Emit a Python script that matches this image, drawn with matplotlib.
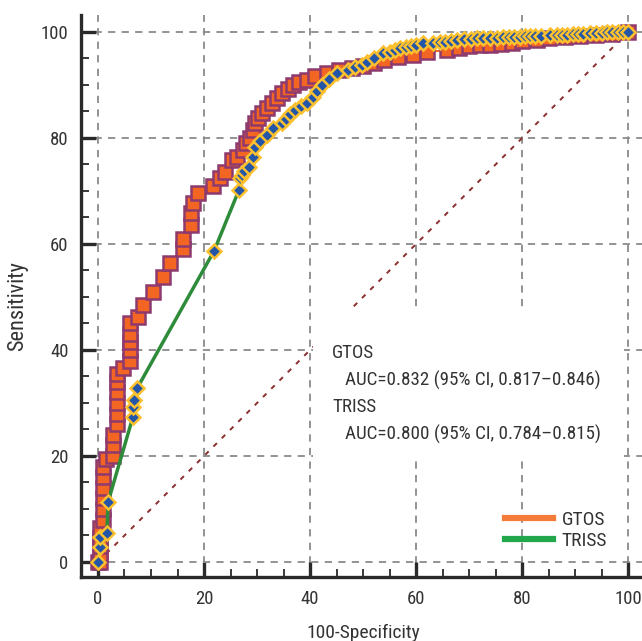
import matplotlib
matplotlib.use("Agg")
import matplotlib.pyplot as plt
from matplotlib.lines import Line2D
from matplotlib.patches import Rectangle
from matplotlib import font_manager as fm

# ---------------- data ----------------
gtos_fpr = [0, 0.4, 0.4, 0.4, 0.4, 0.4, 1.0, 1.0, 1.0, 1.0, 1.0, 1.0, 1.5, 2.8, 2.8, 2.8,
            3.6, 3.6, 3.6, 3.6, 3.6, 3.6, 4.7, 6.0, 6.0, 6.0, 6.0, 6.0, 7.5, 8.5, 10.4, 12.3,
            13.6, 16.0, 16.0, 17.5, 17.5, 18.0, 18.9, 21.7, 23.0, 24.0, 25.3, 26.3, 27.4, 28.0,
            28.7, 29.2, 29.6, 30.2, 30.9, 31.8, 32.8, 33.8, 34.7, 35.8, 36.8, 38.0, 39.4, 41.0,
            43.2, 45.5, 48.0, 50.0, 52.0, 54.0, 56.5, 59.4, 62.0, 65.8, 68.0, 70.0, 72.0, 74.0,
            76.0, 78.0, 80.0, 82.8, 85.0, 88.0, 91.0, 94.0, 97.0, 100.0]
gtos_tpr = [0, 0, 1.5, 3, 4.5, 6.5, 8, 10, 12, 14, 16, 18, 19.5, 20, 22, 24,
            26, 28, 30, 32, 34, 35.5, 36.6, 38, 40, 41.5, 43, 45, 46.2, 48.5, 51, 53.8,
            56.4, 59, 61, 63.6, 65.8, 67.7, 69.6, 71, 72.4, 73.5, 75.8, 76.5, 77.7, 79,
            80, 81.5, 82.8, 83.8, 84.7, 85.7, 86.6, 87.6, 88.5, 89.3, 90, 90.5, 91, 91.6,
            92.3, 92.8, 93.2, 93.6, 94.2, 94.8, 95.2, 95.7, 96.2, 96.6, 97.0, 97.3, 97.5, 97.6,
            97.8, 98.0, 98.3, 98.5, 98.8, 99.0, 99.2, 99.4, 99.6, 100]

triss_fpr = [0, 0.4, 0.4, 1.7, 1.9, 6.6, 6.6, 6.8, 7.4, 21.9, 26.6, 26.8, 27.2, 27.6, 28.5,
             29.2, 29.6, 30.5, 31.9, 33.0, 34.7, 35.5, 36.3, 37.2, 38.3, 39.4, 40.5, 41.3,
             42.3, 43.5, 45.1, 47.2, 48.5, 49.7, 50.8, 52.0, 53.8, 55.0, 56.0, 57.0, 58.0,
             59.0, 60.0, 61.3, 63.2, 64.5, 65.5, 66.5, 67.7, 69.0, 70.3, 71.5, 72.7, 74.0,
             75.2, 76.4, 77.5, 78.5, 79.5, 80.5, 81.5, 82.5, 83.5, 85.3, 86.5, 87.5, 88.5,
             89.5, 90.5, 91.5, 92.8, 94.0, 95.0, 96.0, 97.0, 98.0, 99.0, 100]
triss_tpr = [0, 2.8, 4.7, 5.5, 11.3, 27.4, 29.2, 30.5, 32.8, 58.7, 70.2, 72.5, 73.0, 73.8, 74.5,
             76.5, 78.3, 79.5, 80.6, 81.9, 82.8, 83.6, 84.5, 85.3, 86.0, 86.6, 87.8, 88.8,
             90.0, 91.2, 92.3, 92.8, 93.3, 93.8, 94.3, 95.0, 96.0, 96.3, 96.6, 97.0, 97.2,
             97.4, 97.6, 97.9, 97.9, 98.1, 98.2, 98.3, 98.5, 98.6, 98.7, 98.8, 98.8, 98.9,
             98.9, 99.0, 99.0, 99.1, 99.1, 99.2, 99.2, 99.3, 99.3, 99.4, 99.4, 99.5, 99.5,
             99.6, 99.6, 99.7, 99.8, 99.8, 99.8, 99.9, 99.9, 99.9, 100, 100]

ticks = [0, 20, 40, 60, 80, 100]
series_names = ["GTOS", "TRISS"]
auc_lines = ["GTOS", "   AUC=0.832 (95% CI, 0.817\u20130.846)",
             "TRISS", "   AUC=0.800 (95% CI, 0.784\u20130.815)"]

# ---------------- style ----------------
avail = {f.name for f in fm.fontManager.ttflist}
fam = [f for f in ["Liberation Sans Narrow", "Roboto Condensed", "Roboto", "DejaVu Sans"] if f in avail]
plt.rcParams['font.family'] = fam

orange = "#F26522"
purple = "#8E3A6E"
blue = "#2356A8"
gold = "#FDC02F"
green = "#2E8B3A"
txt = "#333333"

fig = plt.figure(figsize=(6.42, 6.41), dpi=100)
ax = fig.add_axes([81/642, 64/641, 1 - 81/642, (577-15)/641])
ax.set_xlim(-3.2, 102.6)
ax.set_ylim(-2.83, 103.2)

for s in ["top", "right"]:
    ax.spines[s].set_visible(False)
for s in ["left", "bottom"]:
    ax.spines[s].set_linewidth(2.4)
    ax.spines[s].set_color("#2a2a2a")

ax.set_xticks(ticks)
ax.set_yticks(ticks)
ax.set_xticks(range(0, 101, 5), minor=True)
ax.set_yticks(range(0, 101, 5), minor=True)
ax.tick_params(which="major", direction="in", length=11, width=2.4, color="#2a2a2a",
               labelsize=13.5, labelcolor=txt, pad=9)
ax.tick_params(which="minor", direction="in", length=6, width=1.3, color="#2a2a2a")

ax.grid(True, which="major", color="#8a8a8a", linestyle=(0, (4, 3.5)), linewidth=1.3, zorder=0)
ax.set_axisbelow(True)

# diagonal reference
ax.plot([0, 100], [0, 100], color="#8B2E2E", linestyle=(0, (2.5, 3.5)), linewidth=1.4, zorder=1)

# white box behind AUC text
ax.add_patch(Rectangle((40.6, 19.2), 58.6, 28.4, facecolor="white", edgecolor="none", zorder=2))

# GTOS
ax.plot(gtos_fpr, gtos_tpr, color=orange, linewidth=1.5, marker="s", markersize=10.5,
        markerfacecolor=orange, markeredgecolor=purple, markeredgewidth=1.8, zorder=3)
# TRISS
ax.plot(triss_fpr, triss_tpr, color=green, linewidth=2.5, zorder=4)
ax.plot(triss_fpr, triss_tpr, linestyle="none", marker="D", markersize=7.5,
        markerfacecolor=blue, markeredgecolor=gold, markeredgewidth=1.8, zorder=5)

ys = [39.4, 34.2, 29.2, 24.0]
for s, yv in zip(auc_lines, ys):
    ax.text(44.2, yv, s, fontsize=13.7, color=txt, va="center", ha="left", zorder=6)

handles = [Line2D([], [], color="#F47B3A", linewidth=4.5),
           Line2D([], [], color="#22A84A", linewidth=4.5)]
leg = ax.legend(handles, series_names, loc="lower left", bbox_to_anchor=(76.8, 2.3),
                bbox_transform=ax.transData, frameon=False, fontsize=14, handlelength=2.45,
                handletextpad=0.45, labelspacing=0.15, borderpad=0, borderaxespad=0)
for t in leg.get_texts():
    t.set_color(txt)

ax.set_xlabel("100-Specificity", fontsize=14, color=txt)
ax.xaxis.set_label_coords(0.503, -0.083)
ax.set_ylabel("Sensitivity", fontsize=16, color=txt)
ax.yaxis.set_label_coords(-0.094, 0.482)

fig.savefig("out.png", dpi=100)
